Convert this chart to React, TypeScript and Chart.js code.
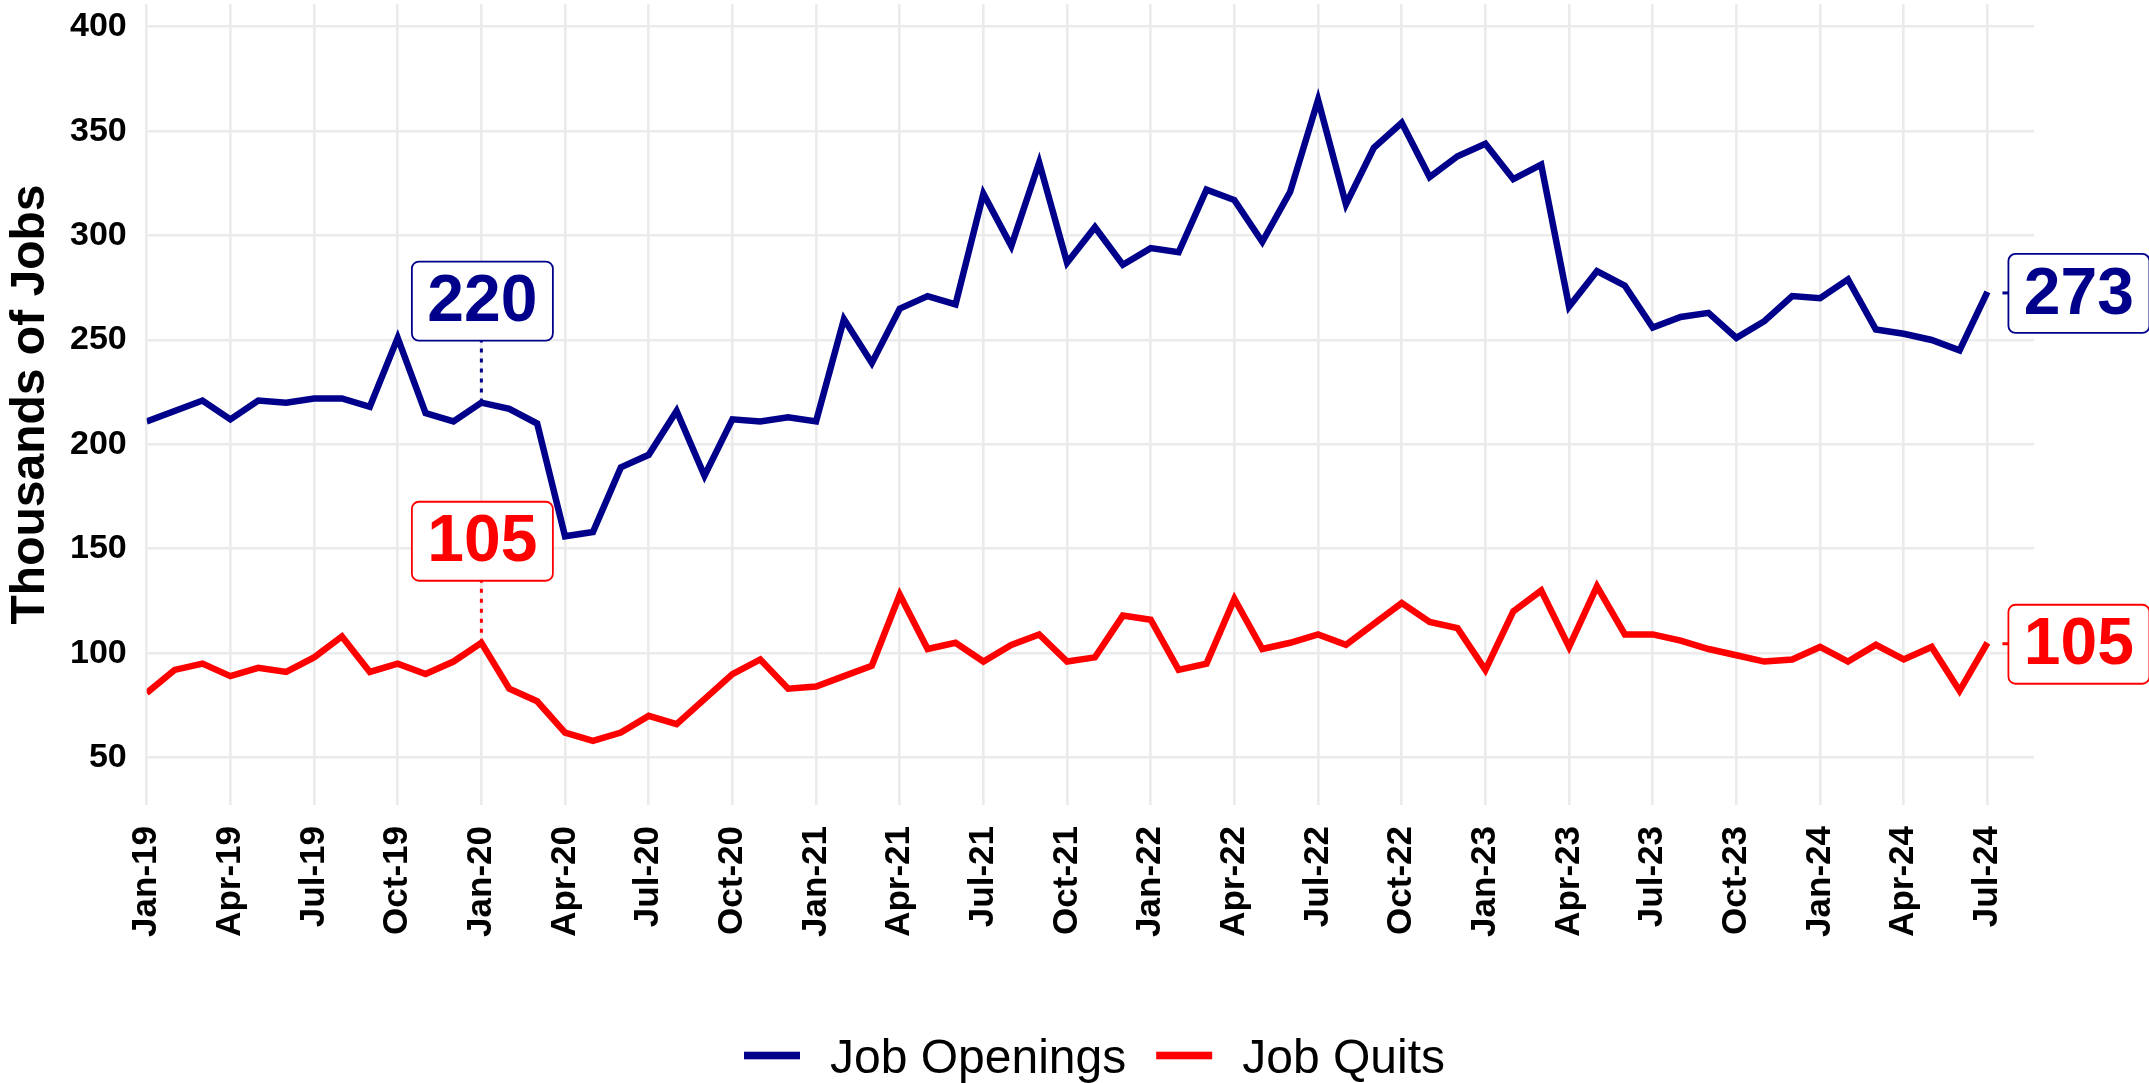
import React, { useEffect, useRef } from "react";
import { Chart, registerables } from "chart.js";

Chart.register(...registerables);

// Monthly values, Jan-19 .. Jul-24 (thousands of jobs)
const jobOpenings: number[] = [
  211, 216, 221, 212, 221, 220, 222, 222, 218, 251, 215, 211,
  220, 217, 210, 156, 158, 189, 195, 216, 185, 212, 211, 213,
  211, 260, 239, 265, 271, 267, 320, 295, 335, 287, 304, 286,
  294, 292, 322, 317, 297, 321, 365, 315, 342, 354, 328, 338,
  344, 327, 334, 266, 283, 276, 256, 261, 263, 251, 259, 271,
  270, 279, 255, 253, 250, 245, 273,
];

const jobQuits: number[] = [
  81, 92, 95, 89, 93, 91, 98, 108, 91, 95, 90, 96,
  105, 83, 77, 62, 58, 62, 70, 66, 78, 90, 97, 83,
  84, 89, 94, 128, 102, 105, 96, 104, 109, 96, 98, 118,
  116, 92, 95, 126, 102, 105, 109, 104, 114, 124, 115, 112,
  92, 120, 130, 103, 132, 109, 109, 106, 102, 99, 96, 97,
  103, 96, 104, 97, 103, 82, 105,
];

// Quarterly tick labels (every 3rd month starting Jan-19)
const tickLabels: string[] = [
  "Jan-19", "Apr-19", "Jul-19", "Oct-19",
  "Jan-20", "Apr-20", "Jul-20", "Oct-20",
  "Jan-21", "Apr-21", "Jul-21", "Oct-21",
  "Jan-22", "Apr-22", "Jul-22", "Oct-22",
  "Jan-23", "Apr-23", "Jul-23", "Oct-23",
  "Jan-24", "Apr-24", "Jul-24",
];

const seriesNames: string[] = ["Job Openings", "Job Quits"];
const seriesColors: string[] = ["#00008B", "#FF0000"];

// Highlighted points: month index (0 = Jan-19)
const calloutIndex = 12; // Jan-20
const lastIndex = jobOpenings.length - 1; // Jul-24

const FONT = '"Liberation Sans", Arial, Helvetica, sans-serif';

function roundRect(ctx: CanvasRenderingContext2D, x: number, y: number, w: number, h: number, r: number) {
  ctx.beginPath();
  ctx.moveTo(x + r, y);
  ctx.lineTo(x + w - r, y);
  ctx.arcTo(x + w, y, x + w, y + r, r);
  ctx.lineTo(x + w, y + h - r);
  ctx.arcTo(x + w, y + h, x + w - r, y + h, r);
  ctx.lineTo(x + r, y + h);
  ctx.arcTo(x, y + h, x, y + h - r, r);
  ctx.lineTo(x, y + r);
  ctx.arcTo(x, y, x + r, y, r);
  ctx.closePath();
}

const labelPlugin = {
  id: "valueLabels",
  afterDatasetsDraw(chart: any) {
    const { ctx, scales } = chart;
    const xs = scales.x;
    const ys = scales.y;
    const boxW = 141;
    const boxH = 79;
    const drawBox = (cx: number, cy: number, text: string, color: string) => {
      ctx.save();
      roundRect(ctx, cx - boxW / 2, cy - boxH / 2, boxW, boxH, 7);
      ctx.fillStyle = "#ffffff";
      ctx.fill();
      ctx.lineWidth = 1.8;
      ctx.strokeStyle = color;
      ctx.stroke();
      ctx.fillStyle = color;
      ctx.font = `bold 66px ${FONT}`;
      ctx.textAlign = "center";
      ctx.textBaseline = "middle";
      ctx.fillText(text, cx, cy + 2);
      ctx.restore();
    };
    const series = [jobOpenings, jobQuits];
    series.forEach((arr, si) => {
      const color = seriesColors[si];
      // callout above Jan-20
      const v = arr[calloutIndex];
      const px = xs.getPixelForValue(calloutIndex);
      const py = ys.getPixelForValue(v);
      ctx.save();
      ctx.strokeStyle = color;
      ctx.lineWidth = 3;
      ctx.setLineDash([4, 6]);
      ctx.beginPath();
      ctx.moveTo(px, py);
      ctx.lineTo(px, py - 62);
      ctx.stroke();
      ctx.restore();
      drawBox(px + 1, py - 62 - boxH / 2, String(v), color);

      // end label at last point
      const lv = arr[lastIndex];
      const lx = xs.getPixelForValue(lastIndex);
      const ly = ys.getPixelForValue(lv);
      ctx.save();
      ctx.strokeStyle = color;
      ctx.lineWidth = 3;
      ctx.beginPath();
      ctx.moveTo(lx + 15, ly + 1);
      ctx.lineTo(lx + 21, ly + 1);
      ctx.stroke();
      ctx.restore();
      drawBox(lx + 21 + boxW / 2, ly + 1.5, String(lv), color);
    });
  },
  afterDraw(chart: any) {
    const { ctx } = chart;
    ctx.save();
    ctx.font = `48px ${FONT}`;
    ctx.textBaseline = "alphabetic";
    ctx.textAlign = "left";
    let x = 744;
    const lineY = 1055.5;
    seriesNames.forEach((name, i) => {
      ctx.fillStyle = seriesColors[i];
      ctx.fillRect(x, lineY - 3.8, 56, 7.6);
      const tx = x + 86;
      ctx.fillStyle = "#000000";
      ctx.fillText(name, tx, 1073.3);
      x = tx + ctx.measureText(name).width + 30;
    });
    ctx.restore();
  },
};

export default function App() {
  const canvasRef = useRef<HTMLCanvasElement | null>(null);

  useEffect(() => {
    const canvas = canvasRef.current;
    if (!canvas) return;
    const chart = new Chart(canvas, {
      type: "line",
      data: {
        datasets: [
          {
            label: seriesNames[0],
            data: jobOpenings.map((v, i) => ({ x: i, y: v })),
            borderColor: seriesColors[0],
            backgroundColor: seriesColors[0],
            borderWidth: 6.5,
            pointRadius: 0,
            tension: 0,
            borderJoinStyle: "miter",
          },
          {
            label: seriesNames[1],
            data: jobQuits.map((v, i) => ({ x: i, y: v })),
            borderColor: seriesColors[1],
            backgroundColor: seriesColors[1],
            borderWidth: 6.5,
            pointRadius: 0,
            tension: 0,
            borderJoinStyle: "miter",
          },
        ],
      },
      options: {
        responsive: false,
        animation: false,
        devicePixelRatio: 1,
        layout: { padding: { left: 0, top: 4, right: 115, bottom: 0 } },
        plugins: {
          legend: { display: false },
          tooltip: { enabled: false },
        },
        scales: {
          x: {
            type: "linear",
            min: 0,
            max: 67.67,
            afterFit: (scale: any) => {
              scale.height = 278;
              scale.paddingLeft = 0;
              scale.paddingRight = 0;
              scale.paddingTop = 0;
              scale.paddingBottom = 0;
            },
            border: { display: false },
            grid: { color: "#EBEBEB", lineWidth: 2.6, drawTicks: false },
            ticks: {
              stepSize: 3,
              includeBounds: false,
              autoSkip: false,
              minRotation: 90,
              maxRotation: 90,
              padding: 21,
              color: "#000000",
              font: { family: FONT, size: 35, weight: "bold" },
              callback: (value: any) => {
                const q = Math.round(Number(value) / 3);
                return Number(value) % 3 === 0 ? tickLabels[q] ?? "" : "";
              },
            },
          },
          y: {
            type: "linear",
            min: 27.3,
            max: 410.9,
            afterFit: (scale: any) => {
              scale.width = 146.7;
              scale.paddingLeft = 0;
              scale.paddingRight = 0;
              scale.paddingTop = 0;
              scale.paddingBottom = 0;
            },
            border: { display: false },
            grid: { color: "#EBEBEB", lineWidth: 2.6, drawTicks: false },
            ticks: {
              stepSize: 50,
              includeBounds: false,
              padding: 20,
              color: "#000000",
              font: { family: FONT, size: 34, weight: "bold" },
            },
            title: {
              display: true,
              text: "Thousands of Jobs",
              color: "#000000",
              font: { family: FONT, size: 48, weight: "bold", lineHeight: 1.3 },
              padding: 0,
            },
          },
        },
      },
      plugins: [labelPlugin],
    });
    return () => chart.destroy();
  }, []);

  return (
    <div style={{ position: "fixed", left: 0, top: 0, width: 2149, height: 1083, background: "#ffffff" }}>
      <canvas ref={canvasRef} width={2149} height={1083} style={{ display: "block" }} />
    </div>
  );
}
